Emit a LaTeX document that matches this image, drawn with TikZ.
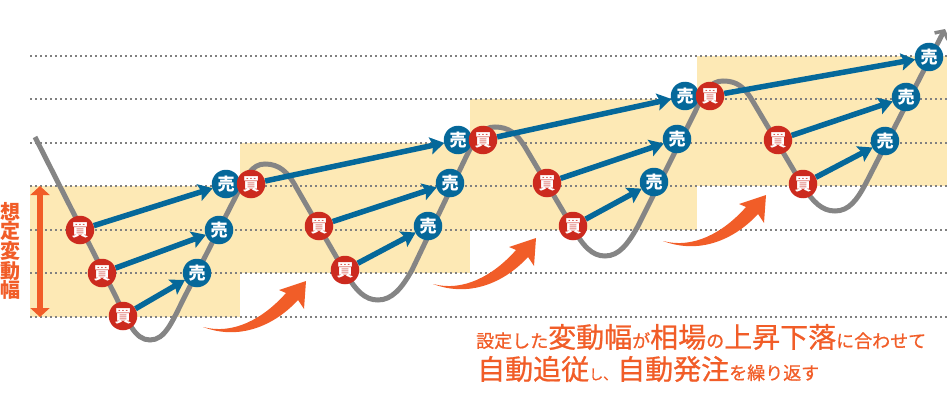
\documentclass[tikz,border=0pt]{standalone}
\usepackage{fontspec}
\newfontfamily\cjk{Noto Sans CJK JP}
\newfontfamily\cjkm[FakeBold=0.8]{Noto Sans CJK JP}
\usetikzlibrary{arrows.meta}
\definecolor{band}{HTML}{FDE9B5}
\definecolor{gridc}{HTML}{808080}
\definecolor{curvec}{HTML}{858585}
\definecolor{buyc}{HTML}{CC2A1E}
\definecolor{sellc}{HTML}{05689A}
\definecolor{orng}{HTML}{F15D28}
\tikzset{
  x=1pt,y=-1pt,
  bandbox/.style={fill=band,draw=none},
  gridline/.style={gridc,line width=1.8pt,dash pattern=on 2.4pt off 2.6pt},
  buy/.style={circle,fill=buyc,minimum size=28.5pt,inner sep=0pt,text=white,font=\cjk\bfseries\fontsize{17}{17}\selectfont},
  sell/.style={circle,fill=sellc,minimum size=28.5pt,inner sep=0pt,text=white,font=\cjk\bfseries\fontsize{17}{17}\selectfont},
  trade/.style={sellc,line width=5.5pt,-{Stealth[length=14pt,width=17pt,inset=2.5pt]},shorten >=-0.5pt},
  swoop/.style={fill=orng,draw=none},
  bigtxt/.style={inner sep=0pt,text=orng}
}
\newcommand{\swoopshape}[2]{%
  \fill[swoop,shift={(#1,#2)}] (0,0) .. controls (30,8) and (60,-8) .. (83,-34)
    -- (76,-37) -- (103,-46) -- (101,-18) -- (95,-27)
    .. controls (75,-5) and (40,15) .. (0,0) -- cycle;}
\newcommand{\bg}[1]{{\cjkm\fontsize{28}{28}\selectfont #1}}
\begin{document}
\begin{tikzpicture}
\useasboundingbox (0,0) rectangle (947,401);
\fill[bandbox] (30,186) rectangle (240,317);
\fill[bandbox] (240,143) rectangle (470,273);
\fill[bandbox] (470,99) rectangle (697,230);
\fill[bandbox] (697,56) rectangle (947,186);
\foreach \yy in {56,99,143,186,230,273,317}
  \draw[gridline] (30,\yy) -- (947,\yy);
\draw[curvec,line width=5pt,-{Straight Barb[length=6pt,width=15pt,line width=3.5pt]}]
  (35,137) -- (116,297)
  .. controls (128,322) and (135,340) .. (150,340)
  .. controls (165,340) and (172,322) .. (184,298)
  -- (236,196)
  .. controls (246,176) and (252,164) .. (265,164)
  .. controls (279,164) and (288,172) .. (296,187)
  -- (345,272)
  .. controls (356,291) and (365,300) .. (378,300)
  .. controls (392,300) and (402,288) .. (412,270)
  -- (466,157)
  .. controls (476,137) and (482,127) .. (495,127)
  .. controls (509,127) and (517,134) .. (525,147)
  -- (573,228)
  .. controls (583,246) and (592,256) .. (605,256)
  .. controls (619,256) and (628,244) .. (638,226)
  -- (695,112)
  .. controls (704,92) and (710,81) .. (723,81)
  .. controls (737,81) and (744,87) .. (752,100)
  -- (803,186)
  .. controls (813,202) and (822,211) .. (835,211)
  .. controls (849,211) and (857,200) .. (866,183)
  -- (945,29);
\node[sell] (s1a) at (226,184) {売};
\node[sell] (s1b) at (219,230) {売};
\node[sell] (s1c) at (197,273) {売};
\node[sell] (s2a) at (458,140) {売};
\node[sell] (s2b) at (450,183) {売};
\node[sell] (s2c) at (428,226) {売};
\node[sell] (s3a) at (685,96) {売};
\node[sell] (s3b) at (677,139) {売};
\node[sell] (s3c) at (654,182) {売};
\node[sell] (s4a) at (929,57) {売};
\node[sell] (s4b) at (906,97) {売};
\node[sell] (s4c) at (885,141) {売};
\node[buy] (b1a) at (80,230) {買};
\node[buy] (b1b) at (102,273) {買};
\node[buy] (b1c) at (123,316) {買};
\node[buy] (b2a) at (251,184) {買};
\node[buy] (b2b) at (319,226) {買};
\node[buy] (b2c) at (345,270) {買};
\node[buy] (b3a) at (483,140) {買};
\node[buy] (b3b) at (547,183) {買};
\node[buy] (b3c) at (573,226) {買};
\node[buy] (b4a) at (710,96) {買};
\node[buy] (b4b) at (778,140) {買};
\node[buy] (b4c) at (803,184) {買};
\draw[trade] (b1a) -- (s1a);
\draw[trade] (b1b) -- (s1b);
\draw[trade] (b1c) -- (s1c);
\draw[trade] (b2a) -- (s2a);
\draw[trade] (b2b) -- (s2b);
\draw[trade] (b2c) -- (s2c);
\draw[trade] (b3a) -- (s3a);
\draw[trade] (b3b) -- (s3b);
\draw[trade] (b3c) -- (s3c);
\draw[trade] (b4a) -- (s4a);
\draw[trade] (b4b) -- (s4b);
\draw[trade] (b4c) -- (s4c);
\swoopshape{203}{327}
\swoopshape{433}{284}
\swoopshape{663}{241}
\coordinate (rt) at (40,186);
\coordinate (rb) at (40,317);
\draw[orng,line width=5.5pt,{Triangle[length=9pt,width=19pt]}-{Triangle[length=9pt,width=19pt]}] (rt) -- (rb);
\node[bigtxt,font=\cjk\bfseries\fontsize{20}{19.6}\selectfont,align=center] (vt) at (10,251) {想\\定\\変\\動\\幅};
\node[bigtxt,anchor=west,font=\cjkm\fontsize{18}{18}\selectfont] (l1) at (476,337) {設定した\bg{変動幅}が\bg{相場}の\bg{上昇下落}に合わせて};
\node[bigtxt,anchor=west,font=\cjkm\fontsize{18}{18}\selectfont] (l2) at (477,369) {\bg{自動追従}{\fontsize{14}{14}\selectfont し、}\bg{自動発注}を繰り返す};
\end{tikzpicture}
\end{document}
